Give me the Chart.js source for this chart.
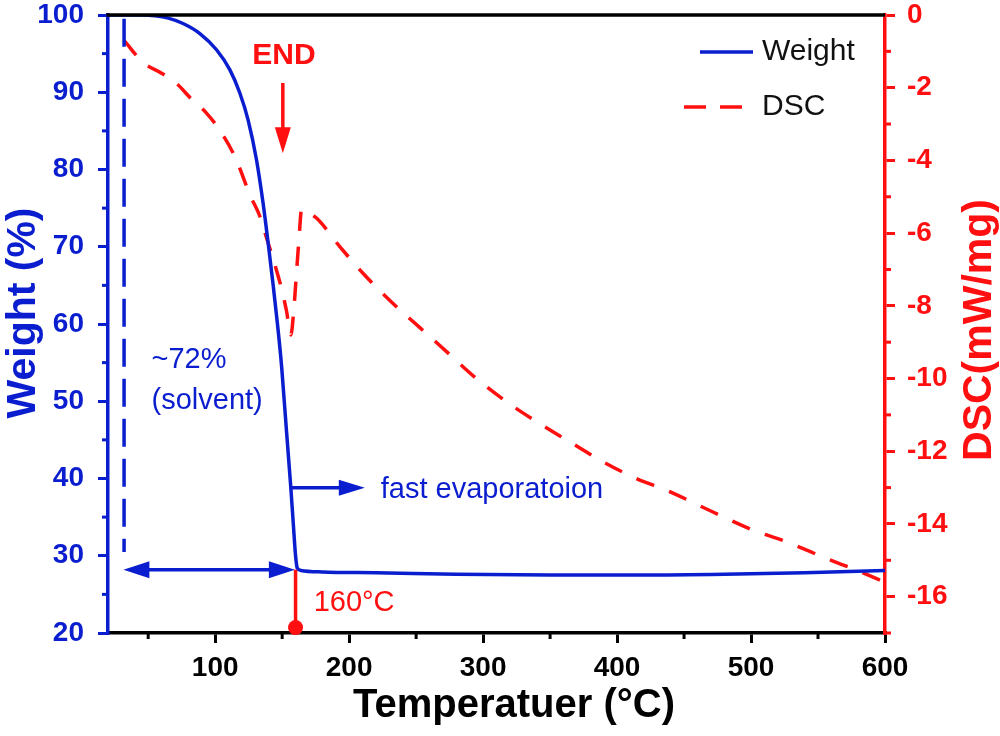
<!DOCTYPE html>
<html>
<head>
<meta charset="utf-8">
<title>TGA / DSC</title>
<script src="https://cdn.jsdelivr.net/npm/chart.js@4.4.1/dist/chart.umd.min.js"></script>
<style>
  html, body { margin: 0; padding: 0; background: #fff; }
  #wrap { width: 1000px; height: 736px; }
</style>
</head>
<body>
<div id="wrap"><canvas id="tga" width="1000" height="736"></canvas></div>
<script>
const BLUE = '#0a1ecf';
const RED = '#ff0f0f';
const FONT = "'Liberation Sans', Arial, sans-serif";

// TGA weight loss curve
const weightTemp = [20, 45, 55, 65, 76, 88.6, 101, 111, 118.4, 124.6, 130.9, 135.8, 139.6, 143.3, 146.5, 149.6, 153.3, 156.3, 158.3, 160, 161.3, 164, 180, 220, 280, 350, 420, 480, 540, 600];
const weightPct = [100, 100, 99.9, 99.6, 98.9, 97.6, 95.5, 92.9, 89.9, 86.4, 81.2, 75.6, 70.4, 65.0, 60.0, 54.5, 46.0, 39.2, 34.2, 30.0, 28.4, 28.1, 27.9, 27.8, 27.6, 27.5, 27.5, 27.6, 27.8, 28.1];

// DSC heat flow curve
const dscTemp = [32, 46, 60, 71, 82, 93, 104, 115, 126, 133.5, 138.5, 142, 146, 149.5, 153.3, 156.5, 158.5, 160.5, 162.5, 164.5, 170, 176, 193, 210.5, 230, 252.8, 272.7, 295, 317.5, 340, 364.6, 389.5, 414.4, 439.3, 461.7, 501.5, 526.4, 556.3, 578.6, 600];
const dscFlow = [-0.7, -1.3, -1.6, -1.88, -2.3, -2.68, -3.2, -3.92, -4.95, -5.55, -6.15, -6.56, -7.05, -7.52, -8.15, -8.8, -8.2, -7.2, -6.2, -5.35, -5.45, -5.6, -6.37, -7.11, -7.84, -8.6, -9.26, -10.0, -10.64, -11.19, -11.74, -12.29, -12.75, -13.11, -13.5, -14.17, -14.49, -14.95, -15.27, -15.6];

// ticks
const xTicks = [100, 200, 300, 400, 500, 600];
const xMinor = [50, 150, 250, 350, 450, 550];
const weightTicks = [20, 30, 40, 50, 60, 70, 80, 90, 100];
const weightMinor = [25, 35, 45, 55, 65, 75, 85, 95];
const dscTicks = [0, -2, -4, -6, -8, -10, -12, -14, -16];
const dscMinor = [-1, -3, -5, -7, -9, -11, -13, -15, -17];

// annotation anchors (data units)
const solventTemp = 32;
const solventTop = 99.5;
const solventBottom = 30.5;
const endTemp = 160;
const endWeight = 28.2;

const toPoints = (xs, ys) => xs.map((t, i) => ({ x: t, y: ys[i] }));

function fixedSize(prop, size) {
    return scale => {
        scale[prop] = size;
        scale.paddingTop = 0;
        scale.paddingBottom = 0;
        scale.paddingLeft = 0;
        scale.paddingRight = 0;
    };
}

function setTicks(values) {
    return scale => { scale.ticks = values.map(v => ({ value: v })); };
}

function seg(ctx, x1, y1, x2, y2, color, width, dash) {
    ctx.save();
    ctx.strokeStyle = color;
    ctx.lineWidth = width;
    ctx.setLineDash(dash || []);
    ctx.beginPath();
    ctx.moveTo(x1, y1);
    ctx.lineTo(x2, y2);
    ctx.stroke();
    ctx.restore();
}

// filled triangle; (x, y) is the tip
function head(ctx, x, y, dir, len, half, color) {
    ctx.save();
    ctx.fillStyle = color;
    ctx.beginPath();
    ctx.moveTo(x, y);
    if (dir === 'right') { ctx.lineTo(x - len, y - half); ctx.lineTo(x - len, y + half); }
    if (dir === 'left') { ctx.lineTo(x + len, y - half); ctx.lineTo(x + len, y + half); }
    if (dir === 'down') { ctx.lineTo(x - half, y - len); ctx.lineTo(x + half, y - len); }
    ctx.closePath();
    ctx.fill();
    ctx.restore();
}

function label(ctx, str, x, y, font, color, align, rot) {
    ctx.save();
    ctx.translate(x, y);
    ctx.rotate(rot || 0);
    ctx.font = font;
    ctx.fillStyle = color;
    ctx.textAlign = align || 'left';
    ctx.textBaseline = 'middle';
    ctx.fillText(str, 0, 0);
    ctx.restore();
}

const decorations = {
    id: 'decorations',
    afterDatasetsDraw(chart) {
        const ctx = chart.ctx;
        const { x, y } = chart.scales;
        const px = v => x.getPixelForValue(v);
        const py = v => y.getPixelForValue(v);

        // solvent marker line
        seg(ctx, px(solventTemp), py(solventTop), px(solventTemp), py(solventBottom), BLUE, 3.5, [28, 12]);

        // double arrow: solvent loss span
        const ya = py(endWeight);
        const xl = px(31.5), xr = px(159.5);
        seg(ctx, xl + 20, ya, xr - 20, ya, BLUE, 3.5);
        head(ctx, xl, ya, 'left', 26, 8.5, BLUE);
        head(ctx, xr, ya, 'right', 26, 8.5, BLUE);

        // end point drop line
        seg(ctx, px(endTemp), ya, px(endTemp), y.bottom, RED, 3.5);
        ctx.save();
        ctx.fillStyle = RED;
        ctx.beginPath();
        ctx.arc(px(endTemp), py(20.7), 7.5, 0, Math.PI * 2);
        ctx.fill();
        ctx.restore();
        label(ctx, '160°C', px(173.5), py(23.9), `29px ${FONT}`, RED);

        // fast evaporation arrow
        const yf = py(38.8);
        seg(ctx, px(157), yf, px(195), yf, BLUE, 3.5);
        head(ctx, px(211.7), yf, 'right', 26, 8, BLUE);
        label(ctx, 'fast evaporatoion', px(223.6), yf + 2, `29px ${FONT}`, BLUE);

        label(ctx, '~72%', px(52.5), py(55.3), `29px ${FONT}`, BLUE);
        label(ctx, '(solvent)', px(52.5), py(50.0), `29px ${FONT}`, BLUE);

        // END marker
        label(ctx, 'END', px(151.3), py(94.7), `bold 30px ${FONT}`, RED, 'center');
        seg(ctx, px(150.5), py(91.2), px(150.5), py(84.5), RED, 3.5);
        head(ctx, px(150.5), py(82.1), 'down', 26, 8, RED);
    },
    afterDraw(chart) {
        const ctx = chart.ctx;
        const { x, y, y2 } = chart.scales;
        const area = chart.chartArea;

        // top frame line
        seg(ctx, area.left - 1.5, area.top, area.right, area.top, '#000', 3.5);

        // minor ticks
        xMinor.forEach(v => { const p = x.getPixelForValue(v); seg(ctx, p, x.top, p, x.top + 6, '#000', 3); });
        weightMinor.forEach(v => { const p = y.getPixelForValue(v); seg(ctx, y.right - 6, p, y.right, p, BLUE, 3); });
        dscMinor.forEach(v => { const p = y2.getPixelForValue(v); seg(ctx, y2.left, p, y2.left + 6, p, RED, 3); });

        // axis titles
        label(ctx, 'Temperatuer (°C)', 514, 706, `bold 40px ${FONT}`, '#000', 'center');
        label(ctx, 'Weight (%)', 24, 313, `bold 41px ${FONT}`, BLUE, 'center', -Math.PI / 2);
        label(ctx, 'DSC(mW/mg)', 980, 330, `bold 41px ${FONT}`, RED, 'center', -Math.PI / 2);

        // legend
        const ds = chart.data.datasets;
        const lx = area.right - 185;
        seg(ctx, lx, 52, lx + 53, 52, ds[0].borderColor, 3.5);
        label(ctx, ds[0].label, lx + 62, 52, `30px ${FONT}`, '#111');
        seg(ctx, lx - 16, 107, lx + 42, 107, ds[1].borderColor, 3.5, [22, 14]);
        label(ctx, ds[1].label, lx + 62, 107, `30px ${FONT}`, '#111');
    }
};

const tickFont = { family: FONT, size: 28, weight: 'bold' };

function axisGrid(color) {
    return {
        drawOnChartArea: false,
        tickLength: 10,
        lineWidth: 3,
        color: color,
        tickWidth: 3,
        tickColor: color
    };
}

new Chart(document.getElementById('tga'), {
    type: 'line',
    data: {
        datasets: [
            {
                label: 'Weight',
                data: toPoints(weightTemp, weightPct),
                yAxisID: 'y',
                borderColor: BLUE,
                borderWidth: 3.5,
                pointRadius: 0,
                cubicInterpolationMode: 'monotone'
            },
            {
                label: 'DSC',
                data: toPoints(dscTemp, dscFlow),
                yAxisID: 'y2',
                borderColor: RED,
                borderWidth: 3.5,
                borderDash: [19, 16],
                pointRadius: 0,
                cubicInterpolationMode: 'monotone'
            }
        ]
    },
    options: {
        responsive: false,
        animation: false,
        devicePixelRatio: 1,
        layout: { padding: { top: 15, left: 0, right: 0, bottom: 0 } },
        plugins: {
            legend: { display: false },
            tooltip: { enabled: false }
        },
        scales: {
            x: {
                type: 'linear',
                position: 'bottom',
                min: 20,
                max: 600,
                afterBuildTicks: setTicks(xTicks),
                afterFit: fixedSize('height', 103),
                ticks: { font: tickFont, color: '#000', padding: 8, maxRotation: 0 },
                grid: axisGrid('#000'),
                border: { color: '#000', width: 3.5 }
            },
            y: {
                type: 'linear',
                position: 'left',
                min: 20,
                max: 100,
                afterBuildTicks: setTicks(weightTicks),
                afterFit: fixedSize('width', 108),
                ticks: { font: tickFont, color: BLUE, padding: 14 },
                grid: axisGrid(BLUE),
                border: { color: BLUE, width: 3.5 }
            },
            y2: {
                type: 'linear',
                position: 'right',
                min: -17,
                max: 0,
                afterBuildTicks: setTicks(dscTicks),
                afterFit: fixedSize('width', 115),
                ticks: { font: tickFont, color: RED, padding: 12 },
                grid: axisGrid(RED),
                border: { color: RED, width: 3.5 }
            }
        }
    },
    plugins: [decorations]
});
</script>
</body>
</html>
